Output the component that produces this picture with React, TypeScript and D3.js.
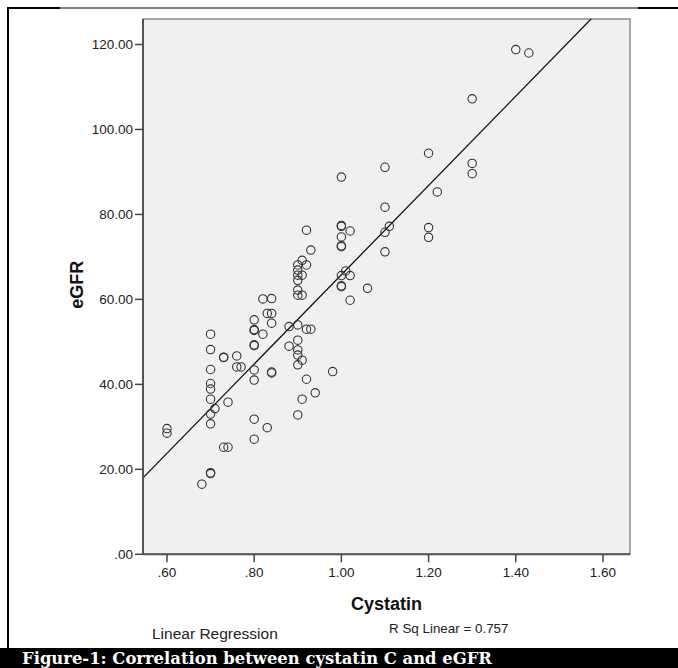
import React from 'react';
import * as d3 from 'd3';

const cystatin = [
  0.60, 0.60, 0.68, 0.70, 0.70, 0.70, 0.70, 0.70, 0.70, 0.70, 0.70, 0.70, 0.70,
  0.71, 0.73, 0.73, 0.73, 0.74, 0.74, 0.76, 0.76, 0.77,
  0.80, 0.80, 0.80, 0.80, 0.80, 0.80, 0.80, 0.80, 0.80,
  0.82, 0.82, 0.83, 0.83, 0.84, 0.84, 0.84, 0.84, 0.84, 0.88, 0.88,
  0.90, 0.90, 0.90, 0.90, 0.90, 0.90, 0.90, 0.90, 0.90, 0.90, 0.90, 0.90,
  0.91, 0.91, 0.91, 0.91, 0.91, 0.92, 0.92, 0.92, 0.92, 0.93, 0.93, 0.94, 0.98,
  1.00, 1.00, 1.00, 1.00, 1.00, 1.00, 1.00, 1.00, 1.00, 1.01, 1.02, 1.02, 1.02, 1.06,
  1.10, 1.10, 1.10, 1.10, 1.11, 1.20, 1.20, 1.20, 1.22, 1.30, 1.30, 1.30, 1.40, 1.43,
];

const egfr = [
  29.6, 28.5, 16.5, 19.0, 19.2, 51.8, 48.2, 43.5, 40.2, 38.9, 36.5, 33.0, 30.7,
  34.3, 46.3, 46.4, 25.2, 25.2, 35.8, 46.7, 44.1, 44.1,
  55.2, 52.9, 52.7, 49.3, 49.1, 43.4, 41.0, 31.8, 27.1,
  60.1, 51.8, 56.7, 29.8, 60.2, 56.7, 54.4, 42.9, 42.7, 53.6, 49.0,
  68.1, 66.9, 65.7, 64.5, 62.2, 61.0, 54.0, 50.4, 48.1, 46.9, 44.6, 32.8,
  69.2, 65.7, 61.0, 45.7, 36.5, 76.3, 68.1, 53.0, 41.2, 71.6, 53.0, 38.0, 43.0,
  88.8, 77.4, 77.2, 74.7, 72.6, 72.4, 65.6, 63.2, 63.0, 66.7, 76.1, 65.6, 59.8, 62.6,
  91.1, 81.7, 75.8, 71.2, 77.2, 94.4, 76.9, 74.6, 85.3, 107.2, 92.0, 89.6, 118.8, 118.0,
];

const xTicks = [0.6, 0.8, 1.0, 1.2, 1.4, 1.6];
const yTicks = [0, 20, 40, 60, 80, 100, 120];
const xDomain = [0.545, 1.662];
const yDomain = [0, 126];
const regIntercept = -39.3;
const regSlope = 105.1;
const rSquared = 0.757;

const xTitle = 'Cystatin';
const yTitle = 'eGFR';
const fitLabel = 'Linear Regression';
const caption = 'Figure-1: Correlation between cystatin C and eGFR';

const W = 678;
const H = 668;
const L = 143;
const R = 630;
const T = 19;
const B = 554.3;

const fmt = (v: number) => {
  const s = d3.format('.2f')(v);
  return s.startsWith('0') ? s.slice(1) : s;
};

export default function App() {
  const x = d3.scaleLinear().domain(xDomain).range([L, R]);
  const y = d3.scaleLinear().domain(yDomain).range([B, T]);
  const pts = cystatin.map((c, i) => ({ c, g: egfr[i] }));
  const line = d3
    .line<number>()
    .x((d) => x(d))
    .y((d) => y(regIntercept + regSlope * d));
  const sans = '"Liberation Sans", Arial, sans-serif';

  return (
    <svg
      width={W}
      height={H}
      style={{ position: 'absolute', left: 0, top: 0, background: '#fff' }}
    >
      <defs>
        <clipPath id="plotclip">
          <rect x={L} y={T} width={R - L} height={B - T} />
        </clipPath>
      </defs>
      <rect x={0} y={0} width={W} height={H} fill="#fff" />
      {/* outer frame */}
      <line x1={7} x2={W} y1={8} y2={8} stroke="#000" strokeWidth={1} />
      <rect x={7} y={7} width={53} height={2} fill="#000" />
      <rect x={638} y={7} width={W - 638} height={2} fill="#000" />
      <rect x={7} y={7} width={2} height={642} fill="#000" />

      {/* plot area */}
      <rect x={L} y={T} width={R - L} height={B - T} fill="#f0f0f0" stroke="#8a8a8a" strokeWidth={1.5} />

      {/* regression line */}
      <path
        d={line([xDomain[0], xDomain[1]]) || ''}
        stroke="#111"
        strokeWidth={1.3}
        fill="none"
        clipPath="url(#plotclip)"
      />

      {/* points */}
      {pts.map((p, i) => (
        <circle key={i} cx={x(p.c)} cy={y(p.g)} r={4.2} fill="none" stroke="#333" strokeWidth={1.1} />
      ))}

      {/* axes */}
      <line x1={L} x2={L} y1={T} y2={B} stroke="#555" strokeWidth={2} />
      <line x1={L} x2={R} y1={B} y2={B} stroke="#555" strokeWidth={2} />

      {yTicks.map((t) => (
        <g key={'y' + t}>
          <line x1={L - 8} x2={L} y1={y(t)} y2={y(t)} stroke="#444" strokeWidth={1.5} />
          <text x={L - 10} y={y(t) + 4.5} textAnchor="end" fontFamily={sans} fontSize={13.5} fill="#222">
            {fmt(t)}
          </text>
        </g>
      ))}
      {xTicks.map((t) => (
        <g key={'x' + t}>
          <line x1={x(t)} x2={x(t)} y1={B} y2={B + 8} stroke="#444" strokeWidth={1.5} />
          <text x={x(t)} y={577} textAnchor="middle" fontFamily={sans} fontSize={13.5} fill="#222">
            {fmt(t)}
          </text>
        </g>
      ))}

      {/* titles */}
      <text
        transform={`translate(83,${(T + B) / 2 - 2}) rotate(-90)`}
        textAnchor="middle"
        fontFamily={sans}
        fontWeight="bold"
        fontSize={18}
        fill="#111"
      >
        {yTitle}
      </text>
      <text x={(L + R) / 2} y={610} textAnchor="middle" fontFamily={sans} fontWeight="bold" fontSize={18} fill="#111">
        {xTitle}
      </text>
      <text x={152} y={639} fontFamily={sans} fontSize={15.5} fill="#222">
        {fitLabel}
      </text>
      <text x={389} y={633} fontFamily={sans} fontSize={13.4} fill="#222">
        {`R Sq Linear = ${rSquared.toFixed(3)}`}
      </text>

      {/* caption */}
      <rect x={0} y={648} width={W} height={H - 648} fill="#000" />
      <text
        x={22}
        y={664}
        fontFamily='"DejaVu Serif", "Liberation Serif", serif'
        fontWeight="bold"
        fontSize={16}
        fill="#fff"
        textLength={470}
        lengthAdjust="spacingAndGlyphs"
      >
        {caption}
      </text>
    </svg>
  );
}
